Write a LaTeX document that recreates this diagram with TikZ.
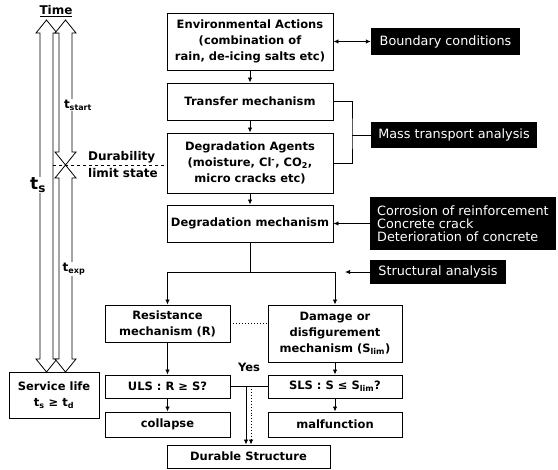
\documentclass[tikz,border=0pt]{standalone}
\usepackage{fontspec}
\setmainfont{DejaVu Sans}
\usepackage{tikz}
\usetikzlibrary{arrows.meta,positioning}

\begin{document}
\begin{tikzpicture}[
    x=1pt, y=-1pt,
    flow box/.style={
        draw,
        line width=0.9pt,
        fill=white,
        inner sep=2pt,
        align=center,
        font=\bfseries\fontsize{11.5}{16}\selectfont
    },
    dark box/.style={
        fill=black,
        text=white,
        inner sep=2pt,
        font=\fontsize{12.8}{13}\selectfont
    },
    time arrow/.style={
        draw,
        line width=0.8pt,
        fill=white
    },
    time label/.style={
        fill=white,
        inner sep=1pt,
        font=\bfseries\fontsize{12}{12}\selectfont
    },
    side label/.style={
        anchor=west,
        inner sep=0pt,
        font=\bfseries\fontsize{12}{12}\selectfont
    },
    link/.style={
        line width=0.9pt,
        -{Latex[length=5pt,width=4.5pt]}
    },
    plain link/.style={line width=0.9pt}
]
\useasboundingbox (0,0) rectangle (558,470);

% Time axis on the left
\node[font=\bfseries\fontsize{12}{12}\selectfont, inner sep=0pt] (time) at (56,11) {\underline{Time}};
\foreach \x/\ya/\yb in {46.5/20/372, 65.5/20/165, 65.5/165/372} {
    \draw[time arrow] (\x,\ya) -- ++(10.5,13) -- ++(-4,0) -- (\x+6.5,\yb-13) -- ++(4,0)
        -- (\x,\yb) -- ++(-10.5,-13) -- ++(4,0) -- (\x-6.5,\ya+13) -- ++(-4,0) -- cycle;
}
\node[time label] (tstart) at (78,105) {t\textsubscript{start}};
\node[time label, font=\bfseries\fontsize{17}{17}\selectfont] (ts) at (38,185) {t\textsubscript{s}};
\node[time label] (texp) at (74,269) {t\textsubscript{exp}};

\node[flow box, minimum width=90, minimum height=46] (service) at (54,395) {Service life\\t\textsubscript{s} ≥ t\textsubscript{d}};

% Main column
\node[flow box, minimum width=166, minimum height=57] (env) at (250,41.5) {Environmental Actions\\(combination of\\rain, de-icing salts etc)};
\node[flow box, minimum width=166, minimum height=37] (transfer) at (250,101.5) {Transfer mechanism};
\node[flow box, minimum width=166, minimum height=60] (agents) at (250,163) {Degradation Agents\\(moisture, Cl\textsuperscript{-}, CO\textsubscript{2},\\micro cracks etc)};
\node[flow box, minimum width=166, minimum height=37] (mechanism) at (250,223.5) {Degradation mechanism};

% Durability limit state
\coordinate (dls) at (53,165);
\draw[dashed, line width=0.8pt] (dls) -- (dls -| agents.west);
\node[side label] (durab) at (88,157) {Durability};
\node[side label] (limit) at (88,173) {limit state};

% Analyses on the right
\node[dark box, minimum width=149, minimum height=27] (boundary) at (445.5,41.5) {Boundary conditions};
\node[dark box, minimum width=166, minimum height=26] (mass) at (454,135) {Mass transport analysis};
\node[dark box, anchor=west, align=left, minimum height=53, inner xsep=7pt] (corrosion) at (370,223.5) {Corrosion of reinforcement\\Concrete crack\\Deterioration of concrete};
\node[dark box, minimum width=136, minimum height=24] (struct) at (438,272) {Structural analysis};

% Limit states
\node[flow box, minimum width=125, minimum height=37] (resist) at (167.5,323.5) {Resistance\\mechanism (R)};
\node[flow box, minimum width=134, minimum height=57] (damage) at (335,333.5) {Damage or\\disfigurement\\mechanism (S\textsubscript{lim})};
\node[flow box, minimum width=125, minimum height=23] (uls) at (167.5,386.5) {ULS : R ≥ S?};
\node[flow box, minimum width=134, minimum height=23] (sls) at (335,386.5) {SLS : S ≤ S\textsubscript{lim}?};
\node[flow box, minimum width=125, minimum height=25] (collapse) at (167.5,424.5) {collapse};
\node[flow box, minimum width=134, minimum height=25] (malfunction) at (335,424.5) {malfunction};
\node[flow box, minimum width=163, minimum height=23] (durable) at (248.5,456.5) {Durable Structure};
\node[font=\bfseries\fontsize{11.5}{12}\selectfont, inner sep=0pt] (yes) at (249,367) {Yes};

% Connectors
\draw[link] (env) -- (transfer);
\draw[link] (transfer) -- (agents);
\draw[link] (agents) -- (mechanism);
\draw[plain link, {Latex[length=5pt,width=4.5pt]}-{Latex[length=5pt,width=4.5pt]}] (env.east) -- (boundary.west);
\coordinate (massjoin) at (352,135);
\draw[plain link] (transfer.east) -| (massjoin) |- (agents.east);
\draw[plain link] (massjoin) -- (mass.west);
\draw[link] (corrosion.west) -- (mechanism.east);

\coordinate (split) at (250,272);
\coordinate (structtip) at (345,272);
\draw[plain link] (mechanism.south) -- (split);
\draw[link] (split) -| (resist.north);
\draw[link] (split) -| (damage.north);
\draw[link] (struct.west) -- (structtip);

\draw[dotted, line width=1pt] (resist.east) -- (resist.east -| damage.west);
\draw[link] (resist) -- (uls);
\draw[link] (damage.south) -- (sls.north);
\draw[link] (uls) -- (collapse);
\draw[link] (sls) -- (malfunction);
\draw[plain link] (uls.east) -- (sls.west);
\coordinate (yes1) at (246,386.5);
\coordinate (yes2) at (251,386.5);
\draw[link] (yes1) -- (yes1 |- durable.north);
\draw[link, dotted] (yes2) -- (yes2 |- durable.north);

\end{tikzpicture}
\end{document}
